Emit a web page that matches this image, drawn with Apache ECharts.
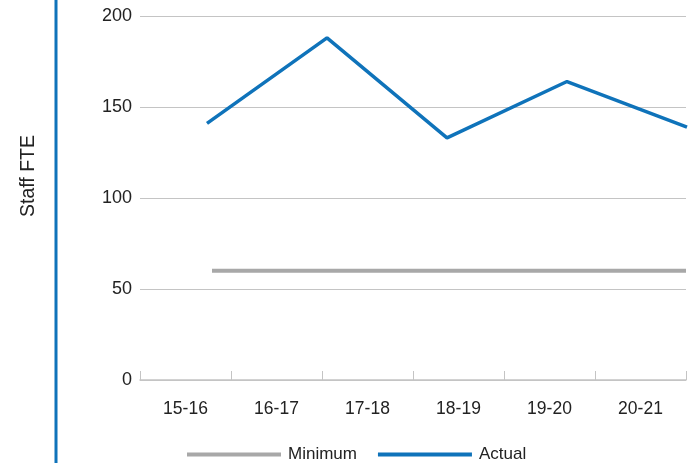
<!DOCTYPE html>
<html>
<head>
<meta charset="utf-8">
<script src="https://cdn.jsdelivr.net/npm/echarts@6/dist/echarts.min.js"></script>
<style>
  html, body { margin: 0; padding: 0; background: #fff; }
  #chart { width: 697px; height: 463px; }
</style>
</head>
<body>
<div id="chart"></div>
<script>
const years = ['15-16', '16-17', '17-18', '18-19', '19-20', '20-21']
const yTicks = [0, 50, 100, 150, 200]
// actual staff: 5 points drawn across the chart
const actualPoints = ['a', 'b', 'c', 'd', 'e']
const actual = [141, 188, 133, 164, 139]
const minimumPoints = ['15-16', '16-17', '17-18', '18-19', '19-20', '20-21']
const minimum = [60, 60, 60, 60, 60, 60]
const yName = 'Staff FTE'

const font = 'Liberation Sans, Arial, sans-serif'
const blue = '#0f73ba'
const grey = '#a8a8a8'
const ink = '#222'

const chart = echarts.init(document.getElementById('chart'))

const hiddenX = (gridIndex, data) => ({
	type: 'category',
	gridIndex,
	data,
	boundaryGap: false,
	show: false
})
const hiddenY = (gridIndex) => ({
	type: 'value',
	gridIndex,
	min: yTicks[0],
	max: yTicks[yTicks.length - 1],
	show: false
})

chart.setOption({
	animation: false,
	textStyle: { fontFamily: font },
	grid: [
		{ left: 140, right: 11, top: 16, bottom: 83 },
		{ left: 207, right: 10, top: 16, bottom: 83 },
		{ left: 212, right: 11, top: 16, bottom: 83 }
	],
	legend: {
		left: 182,
		top: 441,
		icon: 'rect',
		itemWidth: 94,
		itemHeight: 4,
		itemGap: 21,
		textStyle: { fontSize: 17, color: ink, fontFamily: font, padding: [0, 0, 0, 2] },
		data: ['Minimum', 'Actual']
	},
	graphic: [
		{
			type: 'line',
			shape: { x1: 56, y1: 0, x2: 56, y2: 463 },
			style: { stroke: blue, lineWidth: 3 }
		},
		{
			type: 'text',
			x: 29,
			y: 176,
			rotation: Math.PI / 2,
			style: {
				text: yName,
				fill: ink,
				font: '19.5px ' + font,
				align: 'center',
				verticalAlign: 'middle'
			}
		}
	],
	xAxis: [
		{
			type: 'category',
			data: years,
			boundaryGap: true,
			axisLine: { show: true, lineStyle: { color: '#c4c4c4', width: 1.5 } },
			axisTick: { show: true, inside: true, length: 9, lineStyle: { color: '#c4c4c4' } },
			axisLabel: { color: ink, fontSize: 17.5, margin: 20 }
		},
		hiddenX(1, actualPoints),
		hiddenX(2, minimumPoints)
	],
	yAxis: [
		{
			type: 'value',
			min: yTicks[0],
			max: yTicks[yTicks.length - 1],
			interval: 50,
			axisLine: { show: false },
			axisTick: { show: false },
			axisLabel: { color: ink, fontSize: 18, margin: 8 },
			splitLine: { lineStyle: { color: '#c4c4c4', width: 1 } }
		},
		hiddenY(1),
		hiddenY(2)
	],
	series: [
		{
			name: 'Minimum',
			type: 'line',
			xAxisIndex: 2,
			yAxisIndex: 2,
			data: minimum,
			symbol: 'none',
			lineStyle: { color: grey, width: 4 },
			itemStyle: { color: grey }
		},
		{
			name: 'Actual',
			type: 'line',
			xAxisIndex: 1,
			yAxisIndex: 1,
			data: actual,
			symbol: 'none',
			lineStyle: { color: blue, width: 3.5 },
			itemStyle: { color: blue }
		}
	]
})
</script>
</body>
</html>
